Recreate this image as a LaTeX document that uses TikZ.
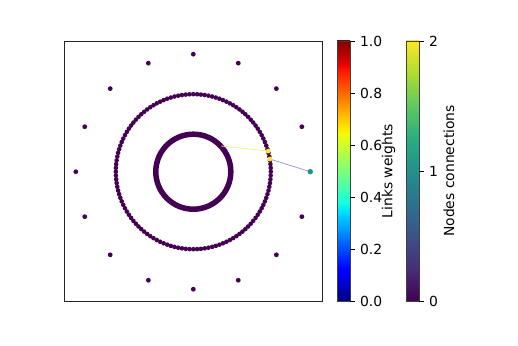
\documentclass[tikz,border=0pt]{standalone}
\usepackage{fontspec}
\setmainfont{DejaVu Sans}
\definecolor{purp}{HTML}{440154}
\definecolor{vyel}{HTML}{FDE725}
\definecolor{vteal}{HTML}{21918C}
\definecolor{vA}{HTML}{472D7B}
\definecolor{vB}{HTML}{3B528B}
\definecolor{vC}{HTML}{2C728E}
\definecolor{vD}{HTML}{28AE80}
\definecolor{vE}{HTML}{5EC962}
\definecolor{vF}{HTML}{ADDC30}
\definecolor{edgeyel}{HTML}{EEF58A}
\definecolor{edgeblue}{HTML}{9A9CD6}
\pgfdeclareverticalshading{jetbar}{100bp}{rgb(0bp)=(0,0,0.5); rgb(25bp)=(0,0,0.5); rgb(30.5bp)=(0,0,1); rgb(31.25bp)=(0,0,1); rgb(42bp)=(0,0.86,1); rgb(42.5bp)=(0,0.9,0.968); rgb(43.75bp)=(0.08,1,0.887); rgb(57bp)=(0.935,1,0.032); rgb(57.5bp)=(0.968,0.963,0); rgb(58bp)=(1,0.926,0); rgb(69.5bp)=(1,0.074,0); rgb(70.5bp)=(0.91,0,0); rgb(75bp)=(0.5,0,0); rgb(100bp)=(0.5,0,0)}
\pgfdeclareverticalshading{virbar}{100bp}{color(0bp)=(purp); color(25bp)=(purp); color(31.25bp)=(vA); color(37.5bp)=(vB); color(43.75bp)=(vC); color(50bp)=(vteal); color(56.25bp)=(vD); color(62.5bp)=(vE); color(68.75bp)=(vF); color(75bp)=(vyel); color(100bp)=(vyel)}
\tikzset{
  frame/.style={draw=black!85, line width=0.9pt},
  cbframe/.style={draw=black!75, line width=0.9pt},
  tickline/.style={draw=black, line width=0.9pt},
  ticklab/.style={anchor=west, inner sep=0pt, font=\fontsize{13.9}{16}\selectfont},
  axlab/.style={rotate=90, inner sep=0pt, font=\fontsize{13.9}{16}\selectfont},
  dotnode/.style={circle, fill=purp, inner sep=0pt, minimum size=4.8pt},
  ringdot/.style={circle, fill=purp, inner sep=0pt, minimum size=4.6pt},
  hubdot/.style={circle, fill=vyel, inner sep=0pt, minimum size=4.8pt},
  tealdot/.style={circle, fill=vteal, inner sep=0pt, minimum size=5.4pt},
  link/.style={line width=0.8pt}
}
\begin{document}
\begin{tikzpicture}[x=1pt,y=1pt]
\useasboundingbox (0,0) rectangle (518,345);
\coordinate (c) at (193.3,173.3);
% inner ring
\draw[purp, line width=5.5pt] (c) circle (37.5);
% middle ring dots
\foreach \i in {0,...,127}{
  \node[ringdot] (m\i) at ([shift={(c)}] {\i*2.8125}:77.5) {};
}
% outer dots
\foreach \k in {1,...,15}{
  \node[dotnode] (o\k) at ([shift={(c)}] {\k*22.5}:117.5) {};
}
% connected nodes
\coordinate (inn) at ([shift={(c)}] 42.5:38);
\coordinate (py1) at ([shift={(c)}] 15.4:77.6);
\coordinate (py2) at ([shift={(c)}] 9.4:77.6);
\coordinate (pt) at ([shift={(c)}] 0:117);
\draw[link, edgeyel] (inn) -- (py1);
\draw[link, edgeblue] (py2) -- (pt);
\node[hubdot] (y1) at (py1) {};
\node[hubdot] (y2) at (py2) {};
\node[tealdot] (t) at (pt) {};
% axes frame
\draw[frame] (64.5,44) rectangle (322,304);
% jet colorbar
\shade[shading=jetbar] (337,44) rectangle (350,304);
\draw[cbframe] (337,44) rectangle (350,304);
\foreach \v [count=\k from 0] in {0.0,0.2,0.4,0.6,0.8,1.0}{
  \draw[tickline] (350,{44+52*\k}) -- (354.9,{44+52*\k});
  \node[ticklab] (jl\k) at (359.8,{44+52*\k}) {\v};
}
\node[axlab] (jetlab) at (388.5,174) {Links weights};
% viridis colorbar
\shade[shading=virbar] (406,44) rectangle (419,304);
\draw[cbframe] (406,44) rectangle (419,304);
\foreach \v [count=\k from 0] in {0,1,2}{
  \draw[tickline] (419,{44+130*\k}) -- (423.9,{44+130*\k});
  \node[ticklab] (vl\k) at (428.8,{44+130*\k}) {\v};
}
\node[axlab] (virlab) at (449,174) {Nodes connections};
\end{tikzpicture}
\end{document}
